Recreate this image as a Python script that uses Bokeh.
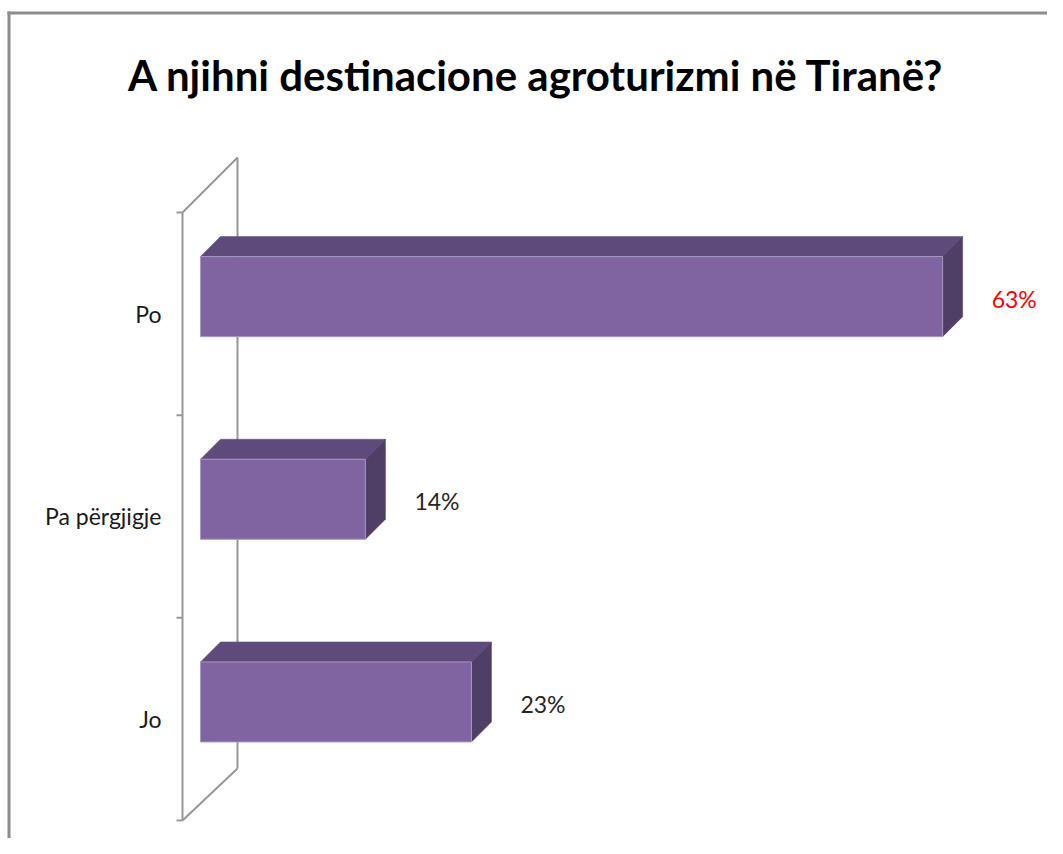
from bokeh.plotting import figure
from bokeh.models import Range1d
from bokeh.core.properties import value
from bokeh.embed import file_html
from bokeh.resources import INLINE

# ---- data ----
categories = ["Po", "Pa përgjigje", "Jo"]
values = [63, 14, 23]
value_labels = ["63%", "14%", "23%"]
label_colors = ["#ff0000", "#262626", "#262626"]
title_text = "A njihni destinacione agroturizmi në Tiranë?"

# ---- geometry helpers (pixel <-> data, for decoration placement) ----
W, H = 1047, 838
K = 11.78      # px per percent
X0 = 200       # canvas px of 0%
B = 202.67     # px per category band
YB = 820       # canvas px of band bottom
def X(px):
    return (px - X0) / K
def Y(py):
    return (YB - py) / B

n = len(categories)
p = figure(width=W, height=H, output_backend="svg", toolbar_location=None,
           x_range=Range1d(X(0), X(W)), y_range=Range1d(Y(H), Y(0)),
           min_border=0)
p.axis.visible = False
p.grid.visible = False
p.outline_line_color = None
p.background_fill_color = "white"
p.border_fill_color = "white"

FONT = value("Lato")

# border lines (chart area)
p.line([X(8.5), X(8.5)], [Y(11), Y(H + 5)], line_color="#8c8c8c", line_width=3)
p.line([X(7), X(W + 5)], [Y(12.5), Y(12.5)], line_color="#8c8c8c", line_width=3)

# 3D wall
fx, bx = X(182), X(237)
ftop, fbot = float(n), 0.0
btop, bbot = Y(157), Y(768)
wall_col = "#979797"
p.line([fx, fx], [fbot, ftop], line_color=wall_col, line_width=2)
p.line([bx, bx], [bbot, btop], line_color=wall_col, line_width=2)
p.line([fx, bx], [ftop, btop], line_color=wall_col, line_width=2)
p.line([fx, bx], [fbot, bbot], line_color=wall_col, line_width=2)
ticks = list(range(n + 1))
p.segment(x0=[X(176)] * len(ticks), y0=ticks, x1=[fx] * len(ticks), y1=ticks,
          line_color=wall_col, line_width=2)

# bars
DX, DY = 20 / K, 20 / B
hh = 0.395 / 2
off = 0.085
centers = [n - 1 - i + 0.5 + off for i in range(n)]
lefts = [0.0] * n
tops = [c + hh for c in centers]
bots = [c - hh for c in centers]

top_xs = [[0, DX, v + DX, v] for v in values]
top_ys = [[t, t + DY, t + DY, t] for t in tops]
side_xs = [[v, v + DX, v + DX, v] for v in values]
side_ys = [[t, t + DY, b + DY, b] for t, b in zip(tops, bots)]

p.patches(top_xs, top_ys, fill_color="#5f4b7b", line_color="#5f4b7b", line_width=0.5)
p.patches(side_xs, side_ys, fill_color="#4f3e66", line_color="#4f3e66", line_width=0.5)
p.quad(left=lefts, right=values, bottom=bots, top=tops,
       fill_color="#8064a2", line_color="#a797c4", line_width=1)

# value labels
gap = 29 / K
p.text(x=[v + DX + gap for v in values], y=[c - 2 / B for c in centers],
       text=value_labels, text_color=label_colors, text_font=FONT,
       text_font_size="23px", text_align="left", text_baseline="middle")

# category labels
band_c = [n - 1 - i + 0.5 for i in range(n)]
p.text(x=[X(161)] * n, y=band_c, text=categories,
       text_color="#1a1a1a", text_font=FONT, text_font_size="23px",
       text_align="right", text_baseline="middle")

# title
p.text(x=[X(536)], y=[Y(74)], text=[title_text], text_font=FONT,
       text_font_style="bold", text_font_size="42px", text_color="black",
       text_align="center", text_baseline="middle")

open("out.html", "w").write(file_html(p, INLINE))
